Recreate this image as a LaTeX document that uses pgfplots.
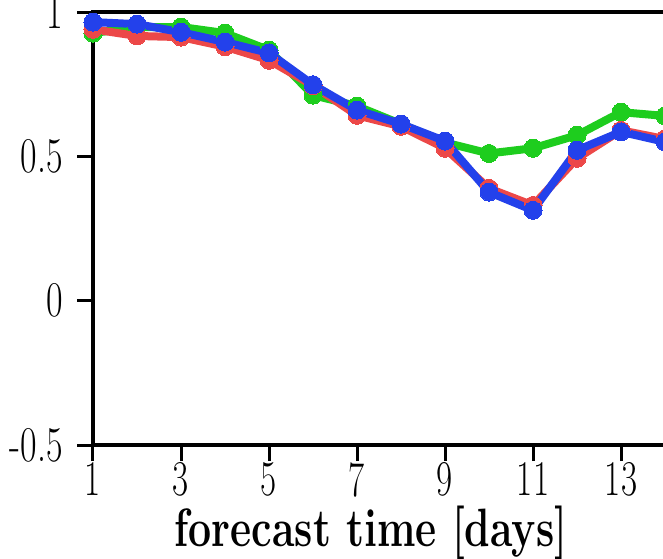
\documentclass[border=0pt]{standalone}
\usepackage{fontspec}
\usepackage{graphicx}
\usepackage{pgfplots}
\pgfplotsset{compat=1.18}
\definecolor{cgreen}{RGB}{30,205,30}
\definecolor{cred}{RGB}{236,72,72}
\definecolor{cblue}{RGB}{35,65,235}
\begin{document}
\begin{tikzpicture}
\begin{axis}[
  at={(0pt,0pt)}, anchor=south west,
  scale only axis, width=616pt, height=433pt,
  xmin=1, xmax=15, ymin=-0.5, ymax=1,
  xtick={1,3,5,7,9,11,13}, ytick={-0.5,0,0.5,1},
  xtick pos=bottom, ytick pos=left,
  tick align=outside, major tick length=16pt,
  axis line style={line width=4pt},
  every tick/.style={black, line width=3pt},
  /pgf/number format/assume math mode=true,
  xticklabel={\scalebox{0.7}[1]{\pgfmathprintnumber{\tick}}},
  yticklabel={\scalebox{0.72}[1]{\pgfmathprintnumber{\tick}}},
  tick label style={font=\fontsize{50}{50}\selectfont},
  xticklabel style={inner sep=1pt},
  yticklabel style={inner sep=0pt, xshift=-14pt},
  clip=false,
]
\addplot[cgreen, line width=8pt, mark=*, mark size=9pt, mark options={fill=cgreen, draw=cgreen, line width=0pt}] coordinates {
(1,0.927) (2,0.948) (3,0.948) (4,0.927) (5,0.868) (6,0.712) (7,0.674) (8,0.612) (9,0.548) (10,0.510) (11,0.528) (12,0.573) (13,0.653) (14,0.640)};
\addplot[cred, line width=8pt, mark=*, mark size=9pt, mark options={fill=cred, draw=cred, line width=0pt}] coordinates {
(1,0.940) (2,0.917) (3,0.913) (4,0.880) (5,0.833) (6,0.745) (7,0.642) (8,0.604) (9,0.528) (10,0.389) (11,0.330) (12,0.493) (13,0.590) (14,0.560)};
\addplot[cblue, line width=8pt, mark=*, mark size=9pt, mark options={fill=cblue, draw=cblue, line width=0pt}] coordinates {
(1,0.965) (2,0.958) (3,0.930) (4,0.896) (5,0.858) (6,0.748) (7,0.660) (8,0.612) (9,0.553) (10,0.376) (11,0.313) (12,0.521) (13,0.585) (14,0.550)};
\end{axis}
\node[anchor=base] at (278pt,-101pt) {\fontsize{54}{54}\selectfont\bfseries\scalebox{0.76}[1]{forecast time [days]}};
\node[anchor=base] at (229pt,447pt) {\fontsize{46}{46}\selectfont\bfseries\scalebox{0.78}[1]{correlation coefficient}};
\pgfresetboundingbox
\useasboundingbox (-93pt,-113pt) rectangle (570pt,445pt);
\end{tikzpicture}
\end{document}
